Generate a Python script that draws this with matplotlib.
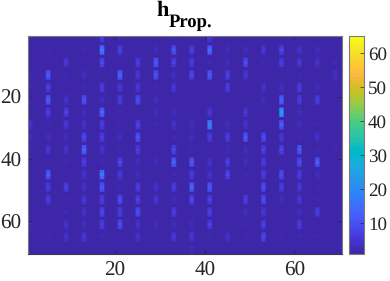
import numpy as np
import matplotlib
matplotlib.use("Agg")
import matplotlib.pyplot as plt
from matplotlib.colors import ListedColormap

plt.rcParams['font.family'] = ['Liberation Serif', 'DejaVu Serif']
plt.rcParams['text.hinting'] = 'no_hinting'

parula = ListedColormap([
[0.2422,0.1504,0.6603],[0.2504,0.1650,0.7076],[0.2578,0.1818,0.7511],[0.2647,0.1978,0.7952],
[0.2706,0.2147,0.8364],[0.2751,0.2342,0.8710],[0.2783,0.2559,0.8991],[0.2803,0.2782,0.9221],
[0.2813,0.3006,0.9414],[0.2810,0.3228,0.9579],[0.2795,0.3447,0.9717],[0.2760,0.3667,0.9829],
[0.2699,0.3892,0.9906],[0.2602,0.4123,0.9952],[0.2440,0.4358,0.9988],[0.2206,0.4603,0.9973],
[0.1963,0.4847,0.9892],[0.1834,0.5074,0.9798],[0.1786,0.5289,0.9682],[0.1764,0.5499,0.9520],
[0.1687,0.5703,0.9359],[0.1540,0.5902,0.9218],[0.1460,0.6091,0.9079],[0.1380,0.6276,0.8973],
[0.1248,0.6459,0.8883],[0.1113,0.6635,0.8763],[0.0952,0.6798,0.8598],[0.0689,0.6948,0.8394],
[0.0297,0.7082,0.8163],[0.0036,0.7203,0.7917],[0.0067,0.7312,0.7660],[0.0433,0.7411,0.7394],
[0.0964,0.7500,0.7120],[0.1408,0.7584,0.6842],[0.1717,0.7670,0.6554],[0.1938,0.7758,0.6251],
[0.2161,0.7843,0.5923],[0.2470,0.7918,0.5567],[0.2906,0.7973,0.5188],[0.3406,0.8008,0.4789],
[0.3909,0.8029,0.4354],[0.4456,0.8024,0.3909],[0.5044,0.7993,0.3480],[0.5616,0.7942,0.3045],
[0.6174,0.7876,0.2612],[0.6720,0.7793,0.2227],[0.7242,0.7698,0.1910],[0.7738,0.7598,0.1646],
[0.8203,0.7498,0.1535],[0.8634,0.7406,0.1596],[0.9035,0.7330,0.1774],[0.9393,0.7288,0.2100],
[0.9728,0.7298,0.2394],[0.9956,0.7434,0.2371],[0.9970,0.7659,0.2199],[0.9952,0.7861,0.1990],
[0.9892,0.8136,0.1895],[0.9786,0.8386,0.1778],[0.9676,0.8639,0.1639],[0.9610,0.8890,0.1537],
[0.9597,0.9135,0.1423],[0.9628,0.9373,0.1265],[0.9691,0.9606,0.1064],[0.9769,0.9839,0.0805]])

# Active rows / columns of the sparse matrix (every 4th index)
active_rows = [1,5,9,13,17,21,25,29,33,37,41,45,49,53,57,61,65,69]
active_cols = [1,5,9,13,17,21,25,29,33,37,41,45,49,53,57,61,65,69]
# Peak values: one list per active column, top to bottom
c01 = [1,1,1,2,2,1.5,1,4,3,2,1,1.5,1,1,1,2,1,1]
c05 = [1,2,1.5,11,7,11,6,2,3,5,1,12,6,6,1,2,2,1]
c09 = [1,1,5,2,1.5,4,7,5,3,4,2,1.5,7,2,2,4,4,1]
c13 = [1,2,1,3,2,10,3,4,8,13,6,4,4,5,4,3,5,1]
c17 = [6,16,8,1,6,3,13,6,6,4,2,17,11,6,8,6,2,1]
c21 = [2,6,1.5,13,5,6,2,2,3,2,8,5,2,9,6,9,1.5,1]
c25 = [1.5,1,6,5,5,9,1.5,7,10,6,3,3,6,7,9,4,4,1]
c29 = [1,3,11,10,2,3,3,2,1,1,3,1,4,5,1.5,3,1,1]
c33 = [2,10,7,3,5,1.5,3,4,2,8,13,2,6,2.5,6,3,5,1.5]
c37 = [2,7,6,8,2,1.5,1,3,3,2,11,6,13,8,1.5,2.5,5,2.5]
c41 = [5,14,2,11,1.5,1.5,5,19,6,1.5,4,4,11,7,7,7,2,1]
c45 = [1,3,3,7,6,1,1.5,3,6,2.5,7,8,1.5,1.5,1,1,4,1]
c49 = [1,3,9,5,1,1.5,5,4,11,3,3,2,1.5,6,3,2,2,1]
c53 = [1,5,2,1.5,4,3,1,1,9,7,6,6,9,9,5,7,8,1]
c57 = [1,8,6,1.5,3,13,24,12,5,8,1.5,9,7,3,1,2,2,1]
c61 = [1.5,4,5,2,6,6,3,3,2,11,9,6,5,5,3,6,2,1]
c65 = [1,3,4,1.5,3,6,1,2,4,2,12,3,2,2,6,1.5,2,2]
c69 = [1,1,2,3.5,2,1.5,1,1,1.5,2,1.5,1,1.5,1.5,1.5,1,1,1]
peaks = [c01,c05,c09,c13,c17,c21,c25,c29,c33,c37,c41,c45,c49,c53,c57,c61,c65,c69]
n_cells = 70
base = 1.0

Z = np.full((n_cells + 2, n_cells + 2), base)
for cj, col in zip(active_cols, peaks):
    for ri, v in zip(active_rows, col):
        Z[ri, cj] = v
        Z[ri - 1, cj] = max(Z[ri - 1, cj], base + (v - base) * 0.8)
        Z[ri + 1, cj] = max(Z[ri + 1, cj], base + (v - base) * 0.8)
Z = Z[1:n_cells + 1, 1:n_cells + 1]
# Cells stay blocky with soft edges, as in the resampled reference
Z_fine = np.repeat(np.repeat(Z, 3, axis=0), 3, axis=1)

W, H = 390, 281
fig = plt.figure(figsize=(W / 100, H / 100), dpi=100)
ax = fig.add_axes([27.5 / W, (H - 254) / H, 314 / W, 218 / H])
im = ax.imshow(Z_fine, cmap=parula, vmin=1, vmax=65, aspect='auto', interpolation='bilinear',
               extent=[0.5, n_cells + 0.5, n_cells + 0.5, 0.5])
ax.set_xticks([20, 40, 60])
ax.set_yticks([20, 40, 60])
ax.tick_params(direction='in', length=3, width=0.5, color='#262626', labelsize=15.2,
               labelcolor='#262626', top=True, right=True)
ax.tick_params(axis='x', pad=5)
ax.tick_params(axis='y', pad=4.5)
for s in ax.spines.values():
    s.set_linewidth(0.8)
    s.set_color('#7a7a7a')
ax.spines['bottom'].set_color('#3a3a4a')

cax = fig.add_axes([348.5 / W, (H - 254) / H, 15.2 / W, 218 / H])
cb = fig.colorbar(im, cax=cax)
cb.set_ticks([10, 20, 30, 40, 50, 60])
cb.ax.tick_params(direction='in', length=3, width=0.5, color='#262626', labelsize=13.7,
                  labelcolor='#262626', pad=3)
cb.outline.set_linewidth(0.8)
cb.outline.set_edgecolor('#7a7a7a')

fig.text(156 / W, (H - 16.5) / H, 'h', fontsize=16, fontweight='bold', color='black',
         ha='left', va='baseline')
fig.text(168.5 / W, (H - 26.5) / H, 'Prop.', fontsize=13.4, fontweight='bold', color='black',
         ha='left', va='baseline')

fig.savefig('out.png', dpi=100)
